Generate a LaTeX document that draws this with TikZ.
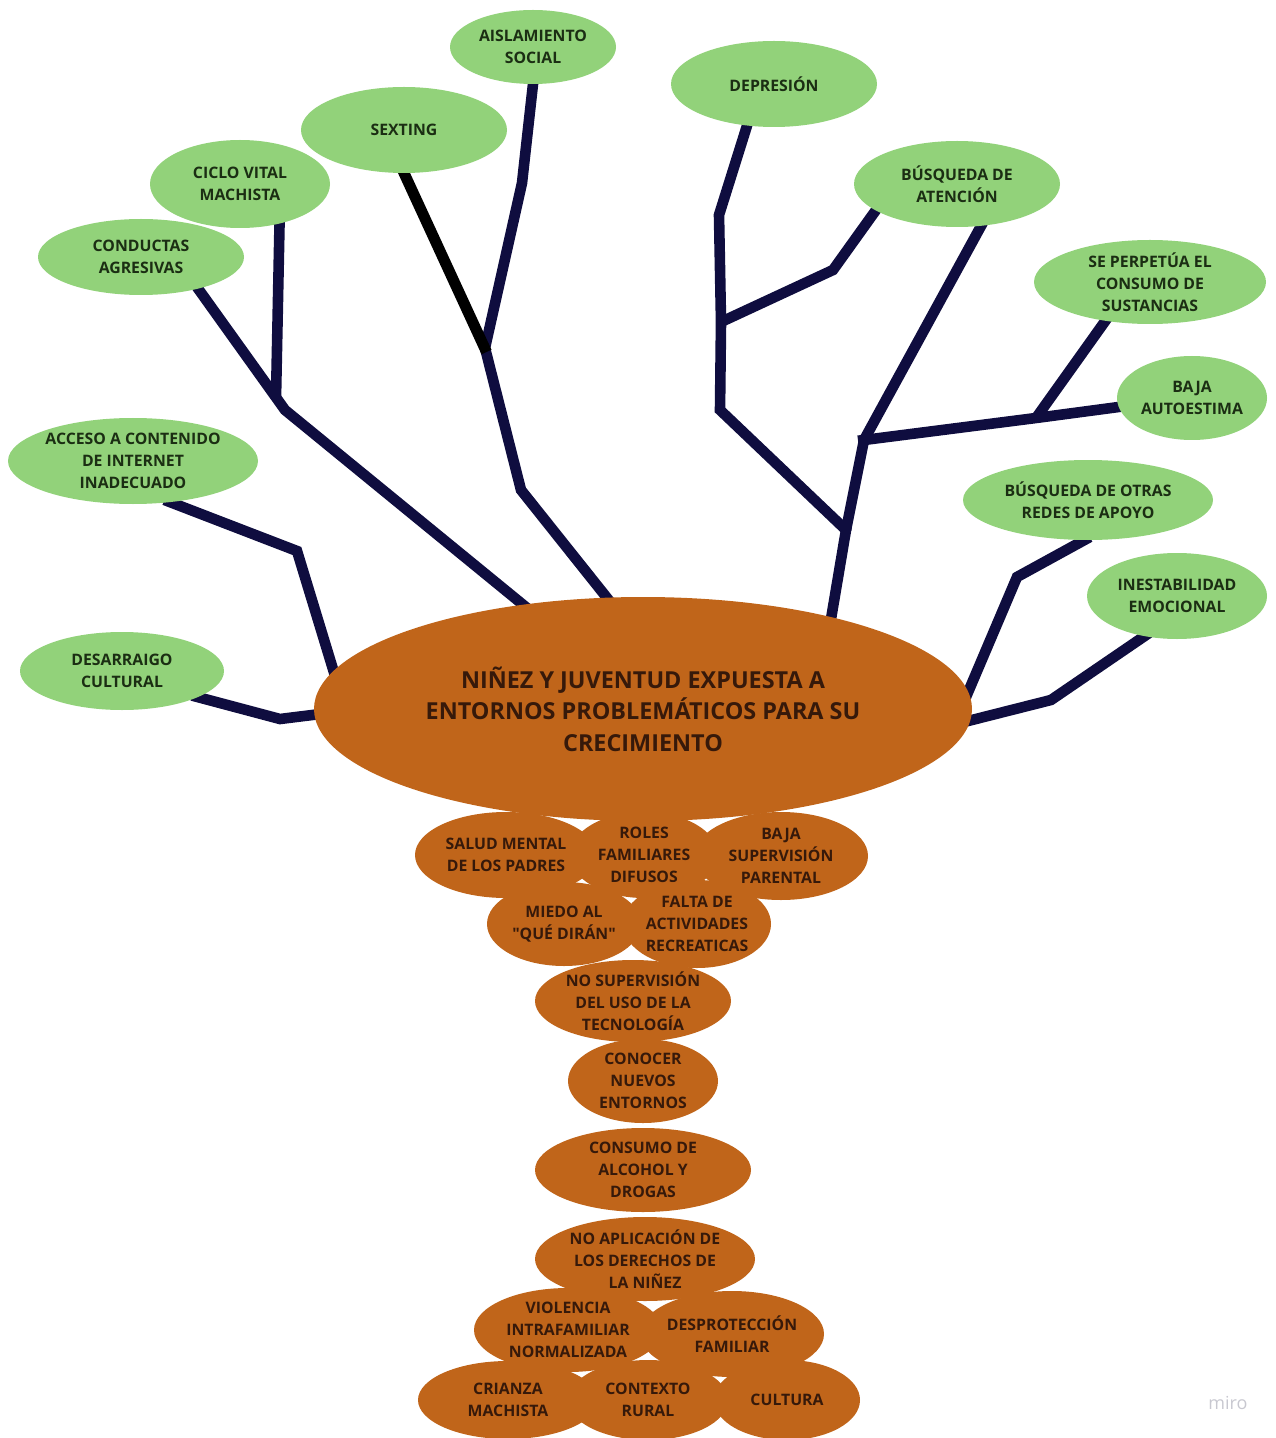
\documentclass[tikz,border=0pt]{standalone}
\usepackage{fontspec}
\setmainfont{Open Sans}
\usetikzlibrary{shapes.geometric,backgrounds}

\definecolor{leaf}{HTML}{92D27A}
\definecolor{leaftext}{HTML}{1B2E13}
\definecolor{bark}{HTML}{C0651A}
\definecolor{barktext}{HTML}{36190A}
\definecolor{branch}{HTML}{0F0D3F}
\definecolor{markgrey}{HTML}{C8C8D0}

\tikzset{
  % ellipse whose size is set only by its minimum width/height
  bubble/.style n args={2}{ellipse, minimum width=#1pt, minimum height=#2pt,
    inner xsep=-25pt, inner ysep=-18pt, outer sep=0pt, align=center,
    font=\bfseries\fontsize{7.9}{11}\selectfont},
  leafnode/.style n args={2}{bubble={#1}{#2}, fill=leaf, text=leaftext},
  barknode/.style n args={2}{bubble={#1}{#2}, fill=bark, text=barktext},
  corenode/.style={bubble={329}{112}, fill=bark, text=barktext,
    font=\bfseries\fontsize{11.7}{15.75}\selectfont},
  limb/.style={draw=branch, line width=5.3pt, shorten <=-3pt},
  twig/.style={draw=black, line width=5.5pt, shorten <=-3pt},
  intonode/.style={shorten >=-3pt}
}

\begin{document}
\begin{tikzpicture}[x=0.5pt,y=-0.5pt]
\useasboundingbox (0,0) rectangle (1275,1438);

% crown: consequences
\node[leafnode={83}{37}]  (ais)   at (533,47)   {AISLAMIENTO\\SOCIAL};
\node[leafnode={103}{43}] (dep)   at (774,84)   {DEPRESIÓN};
\node[leafnode={103}{43}] (sext)  at (404,130)  {SEXTING};
\node[leafnode={90}{44}]  (ciclo) at (240,184)  {CICLO VITAL\\MACHISTA};
\node[leafnode={103}{43}] (aten)  at (957,184)  {BÚSQUEDA DE\\ATENCIÓN};
\node[leafnode={103}{38}] (cond)  at (141,257)  {CONDUCTAS\\AGRESIVAS};
\node[leafnode={116}{42}] (sust)  at (1150,282) {SE PERPETÚA EL\\CONSUMO DE\\SUSTANCIAS};
\node[leafnode={75}{42}]  (auto)  at (1192,398) {BAJA\\AUTOESTIMA};
\node[leafnode={125}{43}] (acc)   at (133,461)  {ACCESO A CONTENIDO\\DE INTERNET\\INADECUADO};
\node[leafnode={125}{40}] (redes) at (1088,500) {BÚSQUEDA DE OTRAS\\REDES DE APOYO};
\node[leafnode={90}{43}]  (inest) at (1177,596) {INESTABILIDAD\\EMOCIONAL};
\node[leafnode={102}{39}] (desa)  at (122,671)  {DESARRAIGO\\CULTURAL};

% trunk: central problem
\node[corenode] (core) at (643,709)
  {NIÑEZ Y JUVENTUD EXPUESTA A\\ENTORNOS PROBLEMÁTICOS PARA SU\\CRECIMIENTO};

% roots: causes
\node[barknode={91}{43}]  (salud)    at (506,855)  {SALUD MENTAL\\DE LOS PADRES};
\node[barknode={74}{43}]  (roles)    at (644,855)  {ROLES\\FAMILIARES\\DIFUSOS};
\node[barknode={87}{44}]  (baja)     at (781,856)  {BAJA\\SUPERVISIÓN\\PARENTAL};
\node[barknode={77}{42}]  (miedo)    at (564,924)  {MIEDO AL\\\textquotedbl QUÉ DIRÁN\textquotedbl};
\node[barknode={74}{44}]  (falta)    at (697,924)  {FALTA DE\\ACTIVIDADES\\RECREATICAS};
\node[barknode={98}{41}]  (nosup)    at (633,1001) {NO SUPERVISIÓN\\DEL USO DE LA\\TECNOLOGÍA};
\node[barknode={75}{42}]  (conocer)  at (643,1081) {CONOCER\\NUEVOS\\ENTORNOS};
\node[barknode={108}{42}] (consumo)  at (643,1170) {CONSUMO DE\\ALCOHOL Y\\DROGAS};
\node[barknode={110}{42}] (derechos) at (645,1259) {NO APLICACIÓN DE\\LOS DERECHOS DE\\LA NIÑEZ};
\node[barknode={94}{42}]  (violen)   at (568,1330) {VIOLENCIA\\INTRAFAMILIAR\\NORMALIZADA};
\node[barknode={92}{43}]  (desprot)  at (732,1334) {DESPROTECCIÓN\\FAMILIAR};
\node[barknode={90}{39}]  (crianza)  at (508,1400) {CRIANZA\\MACHISTA};
\node[barknode={80}{40}]  (contexto) at (648,1400) {CONTEXTO\\RURAL};
\node[barknode={73}{40}]  (cultura)  at (787,1400) {CULTURA};

\node[font=\fontsize{9}{9}\selectfont, text=markgrey] (mark) at (1228,1403) {miro};

% branch junctions
\coordinate (jc) at (276,398);
\coordinate (js) at (485,348);
\coordinate (jd) at (721,322);
\coordinate (jh) at (864,440);
\coordinate (jp) at (1036,418);
\coordinate (jr) at (846,530);

\begin{scope}[on background layer]
  % left branches
  \draw[limb, intonode] (desa.341) -- (280,719) -- (core.181);
  \draw[limb, intonode] (acc.312) -- (297,551) -- (core.173.7);
  \draw[limb, intonode] (cond.331) -- (285,410) -- (core.139.7);
  \draw[limb] (ciclo.315) -- (jc);
  \draw[limb, intonode] (ais.south) -- (522,183) -- (js) -- (521,490) -- (core.108.3);
  \draw[twig] (sext.south) -- ([shift={(1.5,4)}]js);
  % right branches
  \draw[limb, intonode] (dep.237) -- (719,215) -- (jd) -- (720,410) -- (jr) -- (core.26.4);
  \draw[limb] (aten.198.4) -- (833,270) -- (jd);
  \draw[limb] (aten.300.6) -- (jh) -- (jr);
  \draw[limb, intonode] (jh) -- (jp) -- (auto.187.7);
  \draw[limb] (sust.221) -- (jp);
  \draw[limb, intonode] (redes.265) -- (1017,577) -- (core.3.7);
  \draw[limb, intonode] (inest.231) -- (1051,700) -- (core.358.8);
\end{scope}
\end{tikzpicture}
\end{document}
